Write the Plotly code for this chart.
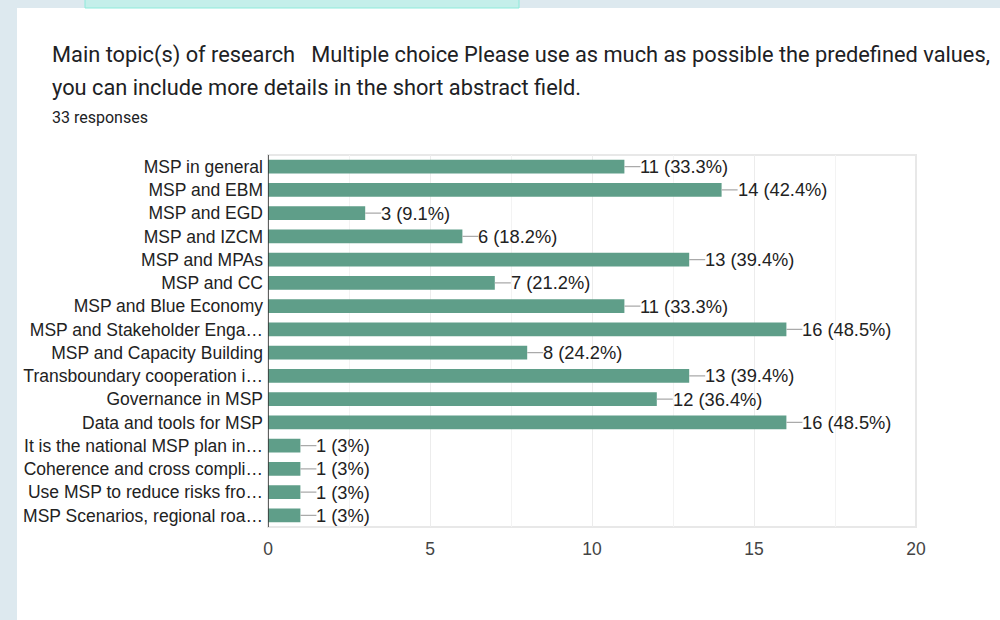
import plotly.graph_objects as go

categories = [
    "MSP in general", "MSP and EBM", "MSP and EGD", "MSP and IZCM", "MSP and MPAs",
    "MSP and CC", "MSP and Blue Economy", "MSP and Stakeholder Enga…",
    "MSP and Capacity Building", "Transboundary cooperation i…", "Governance in MSP",
    "Data and tools for MSP", "It is the national MSP plan in…",
    "Coherence and cross compli…", "Use MSP to reduce risks fro…",
    "MSP Scenarios, regional roa…",
]
counts = [11, 14, 3, 6, 13, 7, 11, 16, 8, 13, 12, 16, 1, 1, 1, 1]
percents = ["33.3%", "42.4%", "9.1%", "18.2%", "39.4%", "21.2%", "33.3%", "48.5%",
            "24.2%", "39.4%", "36.4%", "48.5%", "3%", "3%", "3%", "3%"]
x_ticks = [0, 5, 10, 15, 20]
total_responses = 33

W, H = 1000, 620
L, R, T, B = 268, 84, 155, 93

def px(x):
    return (x - L) / (W - L - R)

def py(y):
    return (H - B - y) / (H - T - B)

LBL = 17.5

fig = go.Figure()
fig.add_trace(go.Bar(
    x=counts, y=categories, orientation="h",
    marker=dict(color="#5f9e89", line=dict(width=0)),
    hoverinfo="skip",
))

annotations = []
for c, v, p in zip(categories, counts, percents):
    annotations.append(dict(
        x=v, y=c, xref="x", yref="y", text=f"{v} ({p})",
        showarrow=True, ax=16, ay=0, arrowhead=0, arrowwidth=1.2,
        arrowcolor="#aaaaaa", xanchor="left", standoff=0, startstandoff=0,
        borderpad=0, borderwidth=0,
        font=dict(family="Liberation Sans, Arial, sans-serif", size=18.3, color="#222222"),
    ))

title_font = dict(family="Roboto, sans-serif", size=21.8, color="#202124")
annotations += [
    dict(xref="paper", yref="paper", x=px(50), y=py(55), xanchor="left", yanchor="middle",
         showarrow=False, font=title_font,
         text="Main topic(s) of research\u00a0\u00a0\u00a0Multiple choice Please use as much as possible the predefined values,"),
    dict(xref="paper", yref="paper", x=px(50), y=py(88), xanchor="left", yanchor="middle",
         showarrow=False, font=title_font,
         text="you can include more details in the short abstract field."),
    dict(xref="paper", yref="paper", x=px(50), y=py(117), xanchor="left", yanchor="middle",
         showarrow=False, font=dict(family="Roboto, sans-serif", size=16, color="#202124"),
         text=f"{total_responses} responses"),
]

shapes = [
    dict(type="rect", xref="paper", yref="paper", x0=px(0), x1=px(17), y0=py(620), y1=py(0),
         fillcolor="#dde9ef", line=dict(width=0), layer="below"),
    dict(type="rect", xref="paper", yref="paper", x0=px(0), x1=px(1000), y0=py(8), y1=py(0),
         fillcolor="#dde9ef", line=dict(width=0), layer="below"),
    dict(type="rect", xref="paper", yref="paper", x0=px(85), x1=px(519), y0=py(8), y1=py(-5),
         fillcolor="#c4efea", line=dict(width=1, color="#8eeadb"), layer="below"),
    dict(type="rect", xref="paper", yref="paper", x0=0, x1=1, y0=0, y1=1,
         fillcolor="rgba(0,0,0,0)", line=dict(width=2, color="#e8e8e8"), layer="below"),
]

fig.update_layout(
    width=W, height=H,
    margin=dict(l=L, r=R, t=T, b=B, autoexpand=False),
    paper_bgcolor="white", plot_bgcolor="white",
    showlegend=False, bargap=0.4,
    annotations=annotations, shapes=shapes,
    font=dict(family="Liberation Sans, Arial, sans-serif", size=LBL, color="#444444"),
    xaxis=dict(range=[0, 20], tickvals=x_ticks, showgrid=True, gridcolor="#ececec",
               gridwidth=1, zeroline=False, showline=False, ticks="",
               minor=dict(dtick=2.5, showgrid=True, gridcolor="#f3f3f3", gridwidth=1),
               tickfont=dict(size=LBL, color="#444444"), ticklabelstandoff=9,
               fixedrange=True),
    yaxis=dict(autorange="reversed", showgrid=False, zeroline=False,
               showline=False, ticks="", ticklabelstandoff=4,
               tickfont=dict(size=LBL, color="#222222"), fixedrange=True),
)
fig.add_shape(type="line", xref="x", yref="paper", x0=0, x1=0, y0=0, y1=1,
              line=dict(color="#333333", width=1.5))

fig.write_html("out.html", config={"displayModeBar": False},
               post_script="document.body.style.margin='0';document.body.style.overflow='hidden';")
